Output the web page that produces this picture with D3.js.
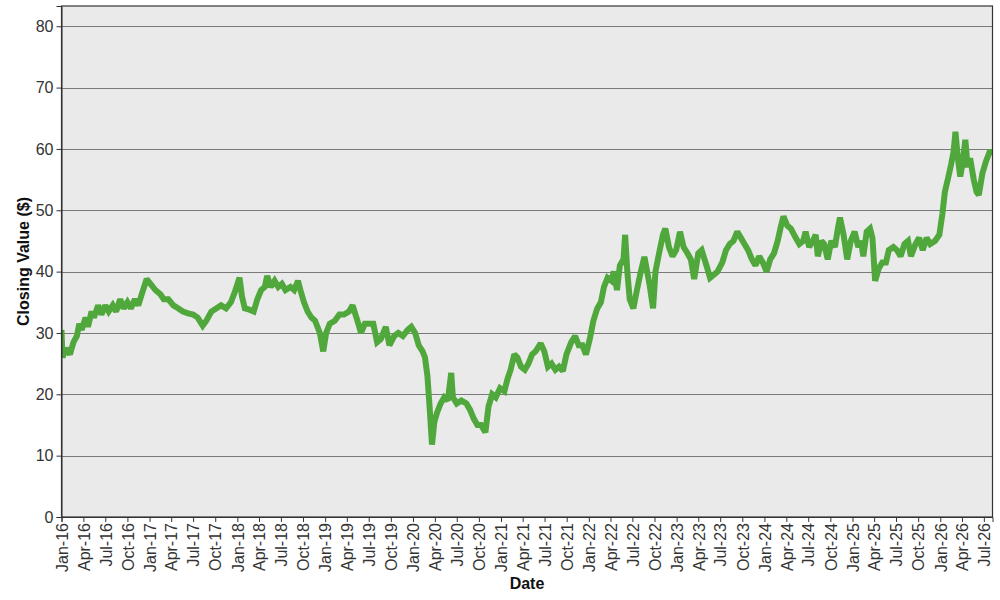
<!DOCTYPE html>
<html>
<head>
<meta charset="utf-8">
<script src="https://cdn.jsdelivr.net/npm/d3@7"></script>
<style>
  html, body { margin: 0; padding: 0; background: #ffffff; }
  svg { display: block; font-family: "Liberation Sans", Arial, sans-serif; }
</style>
</head>
<body>
<svg id="chart" width="1000" height="600"></svg>
<script>
const dates = [
"2016-01-01","2016-01-05","2016-01-20","2016-02-05","2016-02-20","2016-03-05","2016-03-15","2016-03-25","2016-04-10","2016-04-20",
"2016-05-05","2016-05-15","2016-06-01","2016-06-15","2016-07-01","2016-07-15","2016-08-01","2016-08-15","2016-09-01","2016-09-15",
"2016-10-01","2016-10-15","2016-11-01","2016-11-15","2016-12-01","2016-12-20","2017-01-05","2017-01-25","2017-02-15","2017-03-01",
"2017-03-20","2017-04-10","2017-05-01","2017-05-20","2017-06-10","2017-07-01","2017-07-20","2017-08-10","2017-08-25","2017-09-15",
"2017-10-05","2017-10-25","2017-11-15","2017-12-05","2017-12-20","2018-01-10","2018-01-20","2018-02-01","2018-02-20","2018-03-10",
"2018-03-25","2018-04-10","2018-04-25","2018-05-05","2018-05-20","2018-06-05","2018-06-20","2018-07-05","2018-07-20","2018-08-10",
"2018-08-25","2018-09-10","2018-09-20","2018-10-05","2018-10-20","2018-11-05","2018-11-20","2018-12-10","2018-12-24","2019-01-05",
"2019-01-20","2019-02-10","2019-03-01","2019-03-20","2019-04-10","2019-04-25","2019-05-15","2019-05-30","2019-06-15","2019-07-01",
"2019-07-20","2019-08-05","2019-08-20","2019-09-10","2019-09-25","2019-10-15","2019-11-01","2019-11-20","2019-12-10","2019-12-25",
"2020-01-10","2020-01-25","2020-02-10","2020-02-20","2020-03-01","2020-03-10","2020-03-20","2020-03-30","2020-04-10","2020-04-25",
"2020-05-10","2020-05-25","2020-06-08","2020-06-15","2020-07-01","2020-07-20","2020-08-10","2020-08-25","2020-09-10","2020-09-25",
"2020-10-10","2020-10-28","2020-11-10","2020-11-25","2020-12-10","2020-12-28","2021-01-15","2021-01-28","2021-02-10","2021-02-25",
"2021-03-10","2021-03-25","2021-04-10","2021-04-25","2021-05-10","2021-05-25","2021-06-15","2021-06-30","2021-07-15","2021-07-30",
"2021-08-15","2021-08-30","2021-09-15","2021-09-30","2021-10-20","2021-11-05","2021-11-20","2021-12-05","2021-12-20","2022-01-05",
"2022-01-20","2022-02-05","2022-02-20","2022-03-05","2022-03-20","2022-04-05","2022-04-15","2022-04-28","2022-05-10","2022-05-25",
"2022-06-01","2022-06-10","2022-06-20","2022-07-05","2022-07-20","2022-08-05","2022-08-20","2022-09-10","2022-09-25","2022-10-05",
"2022-10-20","2022-11-05","2022-11-15","2022-11-30","2022-12-15","2022-12-30","2023-01-15","2023-01-30","2023-02-15","2023-03-01",
"2023-03-15","2023-04-01","2023-04-15","2023-05-05","2023-05-20","2023-06-05","2023-06-20","2023-07-10","2023-07-25","2023-08-10",
"2023-08-25","2023-09-10","2023-09-25","2023-10-10","2023-10-25","2023-11-10","2023-11-25","2023-12-10","2023-12-25","2024-01-10",
"2024-01-25","2024-02-10","2024-02-25","2024-03-10","2024-03-20","2024-04-05","2024-04-20","2024-05-10","2024-05-25","2024-06-10",
"2024-06-20","2024-07-05","2024-07-20","2024-08-01","2024-08-10","2024-08-25","2024-09-05","2024-09-20","2024-10-05","2024-10-20",
"2024-11-01","2024-11-10","2024-11-25","2024-12-10","2024-12-25","2025-01-10","2025-01-25","2025-02-05","2025-02-15","2025-03-01",
"2025-03-15","2025-03-25","2025-04-05","2025-04-20","2025-05-05","2025-05-20","2025-06-01","2025-06-20","2025-07-05","2025-07-20",
"2025-08-05","2025-08-20","2025-09-01","2025-09-20","2025-10-05","2025-10-20","2025-11-05","2025-11-20","2025-12-10","2025-12-28",
"2026-01-10","2026-01-20","2026-02-01","2026-02-15","2026-02-25","2026-03-05","2026-03-15","2026-03-25","2026-04-05","2026-04-15",
"2026-04-25","2026-05-05","2026-05-20","2026-06-01","2026-06-10","2026-06-25","2026-07-10","2026-07-25","2026-08-06"
];
const closingValues = [
30.5,26.0,27.5,26.5,28.5,29.5,31.5,30.5,32.5,31.0,
33.5,32.5,34.5,33.0,34.5,33.5,34.5,33.5,35.5,34.0,
35.0,34.0,35.5,34.5,36.5,38.8,38.0,37.0,36.3,35.5,
35.5,34.5,34.0,33.5,33.2,33.0,32.5,31.2,32.0,33.5,
34.0,34.5,34.0,35.0,36.5,39.0,36.0,34.0,33.8,33.5,
35.5,37.0,37.5,39.3,37.5,38.5,37.5,38.0,37.0,37.5,
37.0,38.5,37.0,35.0,33.5,32.5,32.0,30.0,27.0,30.0,
31.5,32.0,33.0,33.0,33.5,34.5,32.0,30.0,31.5,31.5,
31.5,28.5,29.0,31.0,28.0,29.5,30.0,29.5,30.5,31.0,
30.0,28.0,27.0,26.0,23.0,18.0,11.8,15.5,17.0,18.5,
19.5,19.0,23.5,19.5,18.5,19.0,18.5,17.5,16.0,15.0,
15.0,13.8,18.0,20.0,19.5,21.0,20.5,22.5,24.0,26.5,
26.0,24.5,24.0,25.0,26.5,27.0,28.3,27.0,24.5,25.0,
24.0,24.5,23.8,26.5,28.5,29.5,28.0,28.0,26.5,29.0,
32.0,34.0,35.0,37.5,39.0,38.5,40.0,37.0,41.0,42.0,
46.0,40.0,35.5,34.0,37.0,40.0,42.4,38.0,34.0,40.0,
43.0,46.0,47.0,44.0,42.5,43.5,46.5,44.0,43.0,42.0,
38.8,43.0,43.5,41.0,39.0,39.5,40.0,41.5,43.5,44.5,
45.0,46.5,45.5,44.5,43.5,42.0,41.0,42.5,41.5,40.0,
42.0,43.0,45.0,47.5,49.0,47.5,47.0,45.5,44.5,45.0,
46.5,44.0,45.0,46.0,42.5,45.0,44.5,42.0,45.0,44.0,
47.0,48.8,46.0,42.0,45.0,46.5,44.0,45.0,42.5,46.5,
47.0,45.5,38.5,40.5,41.5,41.5,43.5,44.0,43.5,42.5,
44.5,45.0,42.5,44.5,45.5,43.5,45.5,44.5,45.0,46.0,
49.5,53.0,55.0,57.5,59.5,62.8,58.5,55.5,58.0,61.5,
57.0,58.5,55.0,53.0,52.5,56.0,58.0,59.5,59.5
];
const yTicks = [0, 10, 20, 30, 40, 50, 60, 70, 80];
const yMax = 83.3;
const xTickStart = "2016-01-01";
const xTickEnd = "2026-07-01";

const parse = d3.timeParse("%Y-%m-%d");
const data = dates.map((d, i) => ({ date: parse(d), value: closingValues[i] }));

const svg = d3.select("#chart");
const L = 61.5, R = 992.5, T = 6, B = 517;

const x = d3.scaleTime().domain(d3.extent(data, d => d.date)).range([L, R]);
const y = d3.scaleLinear().domain([0, yMax]).range([B, T]);

svg.append("rect").attr("x", L).attr("y", T).attr("width", R - L).attr("height", B - T)
  .attr("fill", "#eaeaea");

svg.append("g").selectAll("line").data(yTicks.filter(v => v > 0)).join("line")
  .attr("x1", L).attr("x2", R)
  .attr("y1", d => Math.round(y(d)) + 0.5).attr("y2", d => Math.round(y(d)) + 0.5)
  .attr("stroke", "#7a7a7a").attr("stroke-width", 1);

svg.append("clipPath").attr("id", "clip").append("rect")
  .attr("x", L).attr("y", T).attr("width", R - L).attr("height", B - T);

const line = d3.line().x(d => x(d.date)).y(d => y(d.value));
svg.append("path").datum(data)
  .attr("clip-path", "url(#clip)")
  .attr("fill", "none").attr("stroke", "#50a83c").attr("stroke-width", 6)
  .attr("stroke-linejoin", "miter").attr("stroke-miterlimit", 2)
  .attr("d", line);

svg.append("rect").attr("x", L).attr("y", T).attr("width", R - L).attr("height", B - T)
  .attr("fill", "none").attr("stroke", "#333").attr("stroke-width", 1.2);

// Y axis
const yAxis = d3.axisLeft(y).tickValues(yTicks).tickSize(5).tickPadding(3).tickFormat(d3.format("d"));
const gy = svg.append("g").attr("transform", `translate(${L},0)`).call(yAxis);
gy.select(".domain").attr("stroke", "#333");
gy.selectAll(".tick line").attr("stroke", "#333");
gy.selectAll(".tick text").attr("font-size", 16).attr("fill", "#333")
  .attr("font-family", "'Liberation Sans', Arial, sans-serif");

// X axis
const xTicks = d3.timeMonth.every(3).range(parse(xTickStart), d3.timeDay.offset(parse(xTickEnd), 1));
const xAxis = d3.axisBottom(x).tickValues(xTicks).tickSize(5).tickFormat(d3.timeFormat("%b-%y"));
const gx = svg.append("g").attr("transform", `translate(0,${B})`).call(xAxis);
gx.select(".domain").attr("stroke", "#333");
gx.selectAll(".tick line").attr("stroke", "#333");
gx.selectAll(".tick text")
  .attr("font-size", 16).attr("fill", "#333")
  .attr("font-family", "'Liberation Sans', Arial, sans-serif")
  .attr("text-anchor", "end")
  .attr("transform", "rotate(-90)")
  .attr("x", -6).attr("y", 0).attr("dy", "0.36em");

// Axis titles
svg.append("text").attr("x", (L + R) / 2).attr("y", 589)
  .attr("text-anchor", "middle").attr("font-size", 16).attr("font-weight", "bold")
  .attr("fill", "#111").text("Date");
svg.append("text")
  .attr("transform", `translate(29,${(T + B) / 2}) rotate(-90)`)
  .attr("text-anchor", "middle").attr("font-size", 16).attr("font-weight", "bold")
  .attr("fill", "#111").text("Closing Value ($)");
</script>
</body>
</html>
